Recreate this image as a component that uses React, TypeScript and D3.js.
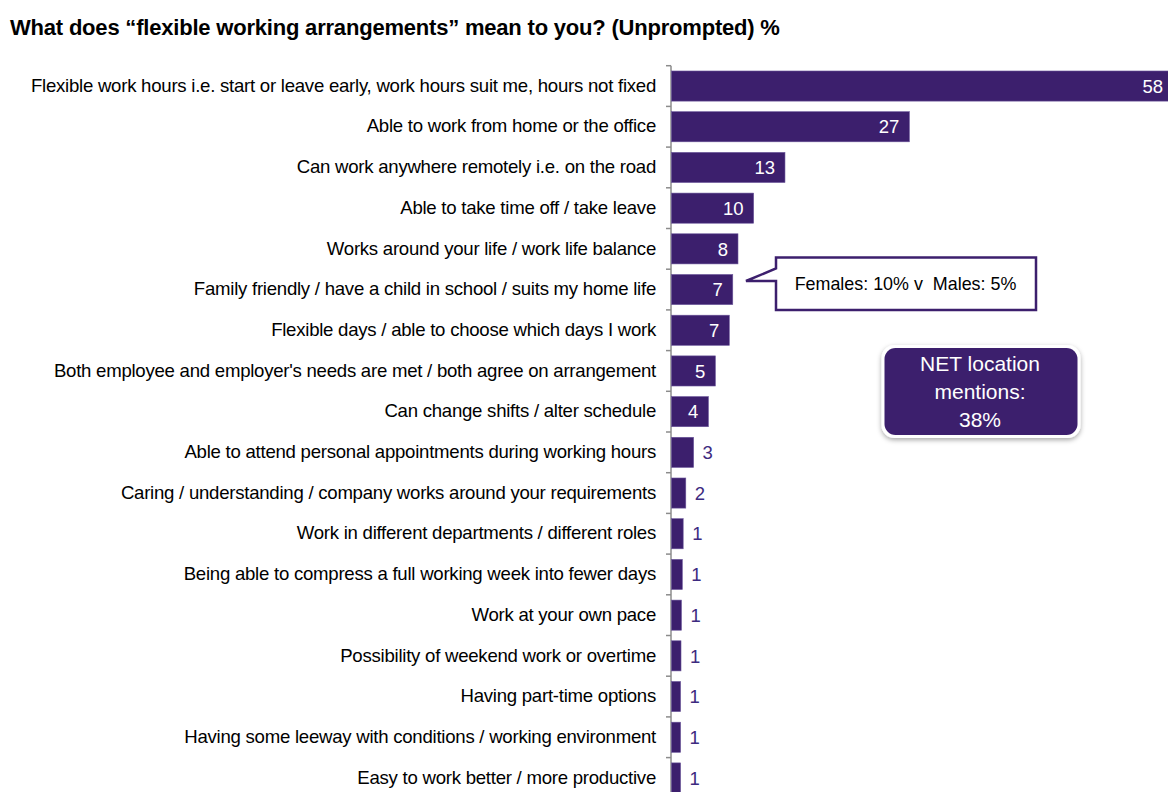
import React from "react";
import * as d3 from "d3";

const categories: string[] = [
  "Flexible work hours i.e. start or leave early, work hours suit me, hours not fixed",
  "Able to work from home or the office",
  "Can work anywhere remotely i.e. on the road",
  "Able to take time off / take leave",
  "Works around your life / work life balance",
  "Family friendly / have a child in school / suits my home life",
  "Flexible days / able to choose which days I work",
  "Both employee and employer's needs are met / both agree on arrangement",
  "Can change shifts / alter schedule",
  "Able to attend personal appointments during working hours",
  "Caring / understanding / company works around your requirements",
  "Work in different departments / different roles",
  "Being able to compress a full working week into fewer days",
  "Work at your own pace",
  "Possibility of weekend work or overtime",
  "Having part-time options",
  "Having some leeway with conditions / working environment",
  "Easy to work better / more productive",
];

const values: number[] = [57.7, 27.4, 13.1, 9.5, 7.7, 7.1, 6.7, 5.1, 4.3, 2.6, 1.7, 1.4, 1.3, 1.2, 1.15, 1.1, 1.1, 1.1];
const labels: string[] = ["58", "27", "13", "10", "8", "7", "7", "5", "4", "3", "2", "1", "1", "1", "1", "1", "1", "1"];

const title = "What does \u201cflexible working arrangements\u201d mean to you? (Unprompted) %";
const calloutText = "Females: 10% v  Males: 5%";
const netLines = ["NET location", "mentions:", "38%"];

const W = 1168;
const H = 792;
const PURPLE = "#3c1f6d";
const FONT = "'Liberation Sans', Arial, sans-serif";

export default function App() {
  const axisX = 671;
  const x = d3.scaleLinear().domain([0, 60]).range([axisX, axisX + 60 * 8.7]);
  const top = 65.7;
  const step = 40.7;
  const y = d3
    .scaleBand<string>()
    .domain(categories)
    .range([top, top + step * categories.length])
    .paddingInner(0.26)
    .paddingOuter(0.13);

  const boundaries = d3.range(categories.length + 1).map((i) => top + i * step);

  // callout geometry
  const cb = { x0: 776, x1: 1036, y0: 257.5, y1: 310 };
  const tip = { x: 746, y: 281 };
  const calloutPath = [
    `M${cb.x0},${cb.y0}`,
    `L${cb.x1},${cb.y0}`,
    `L${cb.x1},${cb.y1}`,
    `L${cb.x0},${cb.y1}`,
    `L${cb.x0},${tip.y}`,
    `L${tip.x},${tip.y}`,
    `L${cb.x0},${cb.y0 + 11}`,
    "Z",
  ].join(" ");

  return (
    <svg
      width={W}
      height={H}
      style={{ position: "absolute", left: 0, top: 0, background: "#fff" }}
      fontFamily={FONT}
    >
      <defs>
        <filter id="shadow" x="-20%" y="-20%" width="140%" height="150%">
          <feDropShadow dx="0" dy="2" stdDeviation="2.5" floodColor="#000" floodOpacity="0.35" />
        </filter>
      </defs>
      <rect x={0} y={0} width={W} height={H} fill="#fff" />
      <text x={10} y={34.5} fontSize={22} fontWeight="bold" fill="#000" letterSpacing={-0.2}>
        {title}
      </text>

      {/* axis */}
      <line x1={axisX} x2={axisX} y1={top} y2={H} stroke="#8c8c8c" strokeWidth={1.5} />
      {boundaries.map((b, i) => (
        <line key={i} x1={axisX - 5} x2={axisX} y1={b} y2={b} stroke="#8c8c8c" strokeWidth={1.5} />
      ))}

      {categories.map((c, i) => {
        const yy = y(c)!;
        const bw = y.bandwidth();
        const cy = yy + bw / 2;
        const xe = x(values[i]);
        const inside = values[i] >= 4;
        return (
          <g key={c}>
            <text
              x={656}
              y={cy - 1}
              dy="0.36em"
              textAnchor="end"
              fontSize={18.6}
              fill="#000"
              letterSpacing={-0.25}
            >
              {c}
            </text>
            <rect x={axisX + 0.5} y={yy} width={xe - axisX - 0.5} height={bw} fill={PURPLE} stroke="#6a559a" strokeWidth={0.6} />
            <text
              x={inside ? xe - 10 : xe + 9}
              y={cy}
              dy="0.36em"
              textAnchor={inside ? "end" : "start"}
              fontSize={18.5}
              fill={inside ? "#fff" : "#3d2a80"}
            >
              {labels[i]}
            </text>
          </g>
        );
      })}

      {/* callout */}
      <path d={calloutPath} fill="#fff" stroke={PURPLE} strokeWidth={2.5} strokeLinejoin="miter" />
      <text
        x={(cb.x0 + cb.x1) / 2 - 0.5}
        y={(cb.y0 + cb.y1) / 2 - 0.5}
        dy="0.36em"
        textAnchor="middle"
        fontSize={17.9}
        fill="#000"
        style={{ whiteSpace: "pre" }}
      >
        {calloutText}
      </text>

      {/* NET box */}
      <g filter="url(#shadow)">
        <rect x={881.5} y={345} width={199} height={93} rx={13} fill="#fff" />
      </g>
      <rect x={884.5} y={348} width={193} height={87} rx={11} fill={PURPLE} />
      {netLines.map((l, i) => (
        <text key={i} x={980} y={363.5 + i * 28} dy="0.36em" textAnchor="middle" fontSize={21} fill="#fff">
          {l}
        </text>
      ))}
    </svg>
  );
}
